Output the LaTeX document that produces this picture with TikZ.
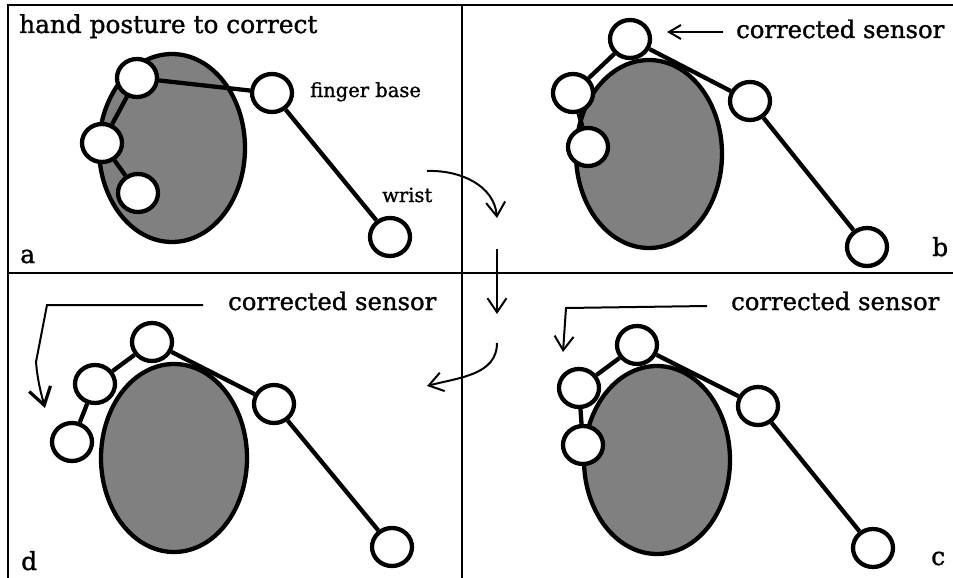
\documentclass[tikz,border=0pt]{standalone}
\usepackage{fontspec}
\setmainfont{DejaVu Serif}[BoldFont=DejaVu Serif,BoldFeatures={FakeBold=1.2}]
\usetikzlibrary{shapes.geometric,arrows.meta}
\definecolor{palmgray}{RGB}{128,128,128}
\begin{document}
\begin{tikzpicture}[x=1pt,y=-1pt,
 palm/.style={ellipse,draw,fill=palmgray,line width=4.3pt,minimum width=146pt,minimum height=188pt,inner sep=0pt},
 joint/.style={ellipse,draw,fill=white,line width=4.3pt,minimum width=40pt,minimum height=38pt,inner sep=0pt},
 bone/.style={line width=4.3pt},
 framel/.style={line width=2.6pt},
 flow/.style={line width=2pt,-{Straight Barb[length=14pt,width=19pt]}},
 bigtxt/.style={inner sep=0pt,font=\fontsize{24.8}{28}\bfseries},
 sensortxt/.style={inner sep=0pt,font=\fontsize{24.3}{28}\bfseries},
 smalltxt/.style={inner sep=0pt,font=\fontsize{19.5}{23}\bfseries},
 lettertxt/.style={inner sep=0pt,font=\fontsize{25}{29}\bfseries},
]
\useasboundingbox (0,0) rectangle (953,578);
\fill[white] (0,0) rectangle (953,578);
% frame
\draw[framel] (953,5) -- (8,5) -- (8,578);
\draw[framel] (462,5) -- (462,578);
\draw[framel] (8,273) -- (953,273);

% panel a
\node[palm] (pa) at (172,148) {};
\node[joint] (a1) at (137,78) {};
\node[joint] (a2) at (102,143) {};
\node[joint] (a3) at (138,193) {};
\node[joint] (af) at (272,93) {};
\node[joint] (aw) at (390,237) {};
\draw[bone] (a1) -- (a2) (a2) -- (a3) (a1) -- (af) (af) -- (aw);
\node[bigtxt,anchor=base west] (title) at (19,33) {hand posture to correct};
\node[smalltxt,anchor=base west] (lfb) at (310,97) {finger base};
\node[smalltxt,anchor=base west] (lwr) at (382,202) {wrist};
\node[lettertxt,anchor=base west] (la) at (20,263) {a};

% panel b
\node[palm] (pb) at (649,154) {};
\node[joint] (b1) at (630,39) {};
\node[joint] (b2) at (573,93) {};
\node[joint] (b3) at (588,147) {};
\node[joint] (bf) at (750,101) {};
\node[joint] (bw) at (867,247) {};
\draw[bone] (b1) -- (b2) (b2) -- (b3) (b1) -- (bf) (bf) -- (bw);
\node[sensortxt,anchor=base west] (sb) at (736,38) {corrected sensor};
\coordinate (bs) at (723,32);
\coordinate (bt) at (667,32);
\draw[flow,-{Straight Barb[length=12pt,width=14pt]}] (bs) -- (bt);
\node[lettertxt,anchor=base west] (lb) at (932,256) {b};

% panel d
\node[palm] (pd) at (174,458) {};
\node[joint] (d1) at (152,342) {};
\node[joint] (d2) at (95,384) {};
\node[joint] (d3) at (72,442) {};
\node[joint] (df) at (274,404) {};
\node[joint] (dw) at (392,547) {};
\draw[bone] (d1) -- (d2) (d2) -- (d3) (d1) -- (df) (df) -- (dw);
\node[sensortxt,anchor=base west] (sd) at (228,310) {corrected sensor};
\coordinate (ds) at (203,305);
\coordinate (dk1) at (47,305);
\coordinate (dk2) at (36,362);
\coordinate (dt) at (45,408);
\draw[flow,-{Straight Barb[length=17pt,width=22pt,line width=3.2pt]}] (ds) -- (dk1) -- (dk2) to[out=-85,in=105] (dt);
\node[lettertxt,anchor=base west] (ld) at (21,570) {d};

% panel c
\node[palm] (pc) at (657,460) {};
\node[joint] (c1) at (637,345) {};
\node[joint] (c2) at (579,388) {};
\node[joint] (c3) at (583,445) {};
\node[joint] (cf) at (758,406) {};
\node[joint] (cw) at (873,548) {};
\draw[bone] (c1) -- (c2) (c2) -- (c3) (c1) -- (cf) (cf) -- (cw);
\node[sensortxt,anchor=base west] (sc) at (731,310) {corrected sensor};
\coordinate (cs) at (707,306);
\coordinate (ck) at (566,308);
\coordinate (ct) at (563,352);
\draw[flow] (cs) -- (ck) -- (ct);
\node[lettertxt,anchor=base west] (lc) at (931,565) {c};

% sequence arrows
\coordinate (m1s) at (427,171);
\coordinate (m1t) at (497,218);
\coordinate (m2s) at (497,249);
\coordinate (m2t) at (497,314);
\coordinate (m3s) at (497,343);
\coordinate (m3t) at (427,386);
\draw[flow] (m1s) to[out=2,in=95] (m1t);
\draw[flow] (m2s) -- (m2t);
\draw[flow] (m3s) to[out=-90,in=15] (m3t);
\end{tikzpicture}
\end{document}
